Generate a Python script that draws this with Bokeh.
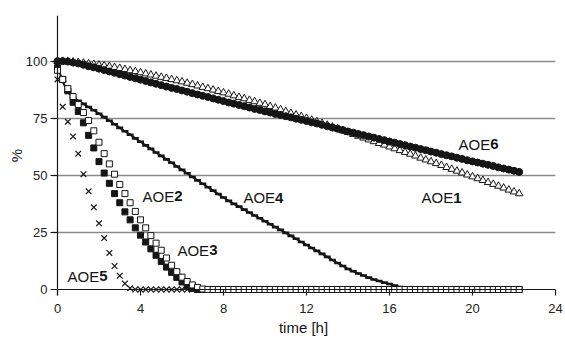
import math
from bokeh.plotting import figure
from bokeh.models import Range1d, FixedTicker, ColumnDataSource, Span
from bokeh.core.properties import value
from bokeh.embed import file_html
from bokeh.resources import INLINE

# ---------------- data ----------------
time_h = [
    0, 0.25, 0.5, 0.75, 1, 1.25, 1.5, 1.75,
    2, 2.25, 2.5, 2.75, 3, 3.25, 3.5, 3.75,
    4, 4.25, 4.5, 4.75, 5, 5.25, 5.5, 5.75,
    6, 6.25, 6.5, 6.75, 7, 7.25, 7.5, 7.75,
    8, 8.25, 8.5, 8.75, 9, 9.25, 9.5, 9.75,
    10, 10.25, 10.5, 10.75, 11, 11.25, 11.5, 11.75,
    12, 12.25, 12.5, 12.75, 13, 13.25, 13.5, 13.75,
    14, 14.25, 14.5, 14.75, 15, 15.25, 15.5, 15.75,
    16, 16.25, 16.5, 16.75, 17, 17.25, 17.5, 17.75,
    18, 18.25, 18.5, 18.75, 19, 19.25, 19.5, 19.75,
    20, 20.25, 20.5, 20.75, 21, 21.25, 21.5, 21.75,
    22, 22.25,
]

aoe1 = [
    100.0, 100.0, 99.9, 99.7, 99.5, 99.2, 98.9, 98.6,
    98.3, 98.0, 97.7, 97.3, 96.9, 96.4, 95.9, 95.5,
    95.0, 94.5, 94.0, 93.5, 93.0, 92.5, 92.0, 91.5,
    91.0, 90.4, 89.8, 89.2, 88.6, 88.0, 87.4, 86.8,
    86.2, 85.6, 84.9, 84.2, 83.6, 82.9, 82.3, 81.6,
    81.0, 80.2, 79.5, 78.8, 78.0, 77.2, 76.5, 75.8,
    75.0, 74.2, 73.5, 72.8, 72.0, 71.2, 70.4, 69.6,
    68.8, 68.0, 67.2, 66.4, 65.6, 64.8, 64.0, 63.3,
    62.5, 61.7, 60.9, 60.1, 59.3, 58.5, 57.6, 56.8,
    56.0, 55.2, 54.4, 53.5, 52.7, 51.9, 51.1, 50.2,
    49.4, 48.6, 47.8, 46.9, 46.1, 45.3, 44.5, 43.6,
    42.8, 42.0,
]

aoe2 = [
    96.0, 92.0, 88.0, 84.5, 81.0, 77.5, 74.0, 69.5,
    64.5, 59.5, 55.0, 50.5, 46.0, 42.0, 38.0, 34.2,
    30.5, 27.0, 23.6, 20.3, 17.2, 13.8, 10.6, 7.8,
    5.4, 3.5, 2.0, 0.9, 0.2, 0, 0, 0,
    0, 0, 0, 0, 0, 0, 0, 0,
    0, 0, 0, 0, 0, 0, 0, 0,
    0, 0, 0, 0, 0, 0, 0, 0,
    0, 0, 0, 0, 0, 0, 0, 0,
    0, 0, 0, 0, 0, 0, 0, 0,
    0, 0, 0, 0, 0, 0, 0, 0,
    0, 0, 0, 0, 0, 0, 0, 0,
    0, 0,
]

aoe3 = [
    97.0, 92.0, 87.0, 82.0, 78.0, 73.0, 67.5, 62.0,
    56.0, 51.0, 46.5, 42.0, 38.0, 34.0, 30.5, 27.0,
    23.8, 20.8, 17.8, 15.0, 12.3, 9.8, 7.5, 5.3,
    3.3, 1.6, 0.5, 0, 0, 0, 0, 0,
    0, 0, 0, 0, 0, 0, 0, 0,
    0, 0, 0, 0, 0, 0, 0, 0,
    0, 0, 0, 0, 0, 0, 0, 0,
    0, 0, 0, 0, 0, 0, 0, 0,
    0, 0, 0, 0, 0, 0, 0, 0,
    0, 0, 0, 0, 0, 0, 0, 0,
    0, 0, 0, 0, 0, 0, 0, 0,
    0, 0,
]

aoe4 = [
    98.0, 91.0, 86.5, 84.0, 82.6, 81.3, 79.9, 78.5,
    77.0, 75.5, 73.9, 72.4, 70.8, 69.3, 67.8, 66.2,
    64.7, 63.1, 61.6, 60.0, 58.5, 57.0, 55.5, 53.9,
    52.4, 50.9, 49.3, 47.8, 46.3, 44.8, 43.3, 41.8,
    40.3, 38.8, 37.5, 36.3, 35.0, 33.7, 32.4, 31.2,
    29.9, 28.6, 27.3, 26.1, 24.8, 23.5, 22.2, 20.8,
    19.5, 18.2, 16.9, 15.6, 14.3, 12.9, 11.6, 10.3,
    9.0, 8.0, 7.0, 6.1, 5.2, 4.4, 3.7, 3.0,
    2.4, 1.7, 1.1, 0.5, 0.1, 0, 0, 0,
    0, 0, 0, 0, 0, 0, 0, 0,
    0, 0, 0, 0, 0, 0, 0, 0,
    0, 0,
]

aoe5 = [
    92.0, 80.0, 73.5, 67.0, 59.5, 50.5, 43.0, 36.0,
    29.0, 22.5, 16.0, 10.3, 6.0, 2.6, 0.5, 0,
    0, 0, 0, 0, 0, 0, 0, 0,
    0, 0, 0, 0, 0, 0, 0, 0,
    0, 0, 0, 0, 0, 0, 0, 0,
    0, 0, 0, 0, 0, 0, 0, 0,
    0, 0, 0, 0, 0, 0, 0, 0,
    0, 0, 0, 0, 0, 0, 0, 0,
    0, 0, 0, 0, 0, 0, 0, 0,
    0, 0, 0, 0, 0, 0, 0, 0,
    0, 0, 0, 0, 0, 0, 0, 0,
    0, 0,
]

aoe6 = [
    100.0, 100.0, 99.8, 99.4, 99.0, 98.4, 97.8, 97.3,
    96.7, 96.1, 95.5, 94.9, 94.3, 93.7, 93.1, 92.5,
    91.9, 91.3, 90.7, 90.1, 89.5, 88.9, 88.3, 87.8,
    87.2, 86.6, 86.0, 85.4, 84.8, 84.3, 83.7, 83.1,
    82.5, 81.9, 81.4, 80.8, 80.3, 79.7, 79.1, 78.6,
    78.0, 77.5, 76.9, 76.4, 75.9, 75.4, 74.8, 74.3,
    73.8, 73.2, 72.7, 72.1, 71.5, 70.9, 70.4, 69.8,
    69.2, 68.7, 68.1, 67.6, 67.0, 66.5, 65.9, 65.4,
    64.8, 64.3, 63.7, 63.2, 62.6, 62.1, 61.5, 61.0,
    60.4, 59.9, 59.3, 58.8, 58.3, 57.7, 57.2, 56.6,
    56.1, 55.6, 55.1, 54.6, 54.1, 53.5, 53.0, 52.5,
    52.0, 51.5,
]

x_ticks = [0, 4, 8, 12, 16, 20, 24]
y_ticks = [0, 25, 50, 75, 100]

series_prefix = ["AOE", "AOE", "AOE", "AOE", "AOE", "AOE"]
series_digit = ["1", "2", "3", "4", "5", "6"]
# label anchor positions (left edge, vertical centre) in data units
label_x = [17.54, 4.10, 5.78, 8.96, 0.48, 19.33]
label_y = [40.1, 40.8, 17.1, 40.1, 5.9, 63.6]

FONT = "Liberation Sans"
INK = "#151515"

# ---------------- figure ----------------
p = figure(
    width=565, height=340,
    output_backend="svg", toolbar_location=None,
    x_range=Range1d(-0.289, 24), y_range=Range1d(-2.63, 120),
    min_border_left=51, min_border_right=10, min_border_top=15, min_border_bottom=45,
)
p.outline_line_color = None
p.background_fill_color = "white"
p.border_fill_color = "white"

p.xgrid.visible = False
p.ygrid.ticker = FixedTicker(ticks=[25, 50, 75, 100])
p.ygrid.grid_line_color = "#8a8a8a"
p.ygrid.grid_line_width = 1.5

p.xaxis.ticker = FixedTicker(ticks=x_ticks)
p.yaxis.ticker = FixedTicker(ticks=y_ticks)
for ax in (p.xaxis[0], p.yaxis[0]):
    ax.axis_line_color = None
    ax.major_tick_line_color = INK
    ax.major_tick_line_width = 1.2
    ax.minor_tick_line_color = None
    ax.major_label_text_font = FONT
    ax.major_label_text_font_size = "13px"
    ax.major_label_text_color = "#222222"
    ax.axis_label_text_font = FONT
    ax.axis_label_text_font_size = "15px"
    ax.axis_label_text_font_style = "normal"
    ax.axis_label_text_color = INK

p.xaxis.major_tick_in = 6
p.xaxis.major_tick_out = 0
p.xaxis.major_label_standoff = 8
p.xaxis.axis_label = "time [h]"
p.xaxis.axis_label_standoff = 3

p.yaxis.major_tick_in = 6
p.yaxis.major_tick_out = 1
p.yaxis.major_label_standoff = 3
p.yaxis.axis_label = "%"
p.yaxis.axis_label_standoff = -2

# axis lines through the origin
p.add_layout(Span(location=0, dimension="width", line_color=INK, line_width=1.2))
p.add_layout(Span(location=0, dimension="height", line_color=INK, line_width=1.2))

src = ColumnDataSource(dict(t=time_h, aoe1=aoe1, aoe2=aoe2, aoe3=aoe3,
                            aoe4=aoe4, aoe5=aoe5, aoe6=aoe6))

p.scatter("t", "aoe5", source=src, marker="x", size=8, line_color=INK, line_width=1.2)
p.line("t", "aoe4", source=src, line_color=INK, line_width=2)
p.scatter("t", "aoe4", source=src, marker="dash", size=7, line_color=INK, line_width=2.6)
p.scatter("t", "aoe3", source=src, marker="square", size=6, fill_color=INK, line_color=INK, line_width=1)
p.scatter("t", "aoe2", source=src, marker="square", size=6, fill_color="white", line_color=INK, line_width=1)
p.scatter("t", "aoe1", source=src, marker="triangle", size=7.5, fill_color="white", line_color=INK, line_width=1)
p.scatter("t", "aoe6", source=src, marker="circle", size=7, fill_color=INK, line_color=INK, line_width=1)

lab = ColumnDataSource(dict(x=label_x, y=label_y, pre=series_prefix, dig=series_digit))
p.text("x", "y", text="pre", source=lab, text_font=value(FONT), text_font_size="15px",
       text_align="left", text_baseline="middle", text_color=INK)
p.text("x", "y", text="dig", source=lab, x_offset=31.7, text_font=value(FONT), text_font_size="15px",
       text_font_style="bold", text_align="left", text_baseline="middle", text_color=INK)

open("out.html", "w").write(file_html(p, INLINE))
